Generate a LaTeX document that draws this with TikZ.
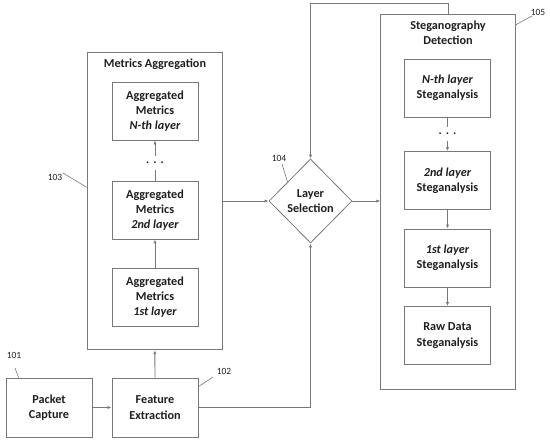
\documentclass[tikz,border=0pt]{standalone}
\usepackage{fontspec}
\setmainfont{Carlito}
\usetikzlibrary{arrows.meta,shapes.geometric,calc}
\definecolor{ln}{RGB}{120,120,120}
\definecolor{tx}{RGB}{30,30,30}
\tikzset{
  box/.style={draw=ln,line width=0.8pt,rectangle,minimum width=86pt,minimum height=58pt,inner sep=0pt,align=center,text=tx,font=\fontsize{12.2}{15.3}\selectfont\bfseries},
  outer/.style={draw=ln,line width=0.8pt,rectangle,inner sep=0pt},
  ttl/.style={align=center,text=tx,font=\fontsize{12.2}{15.3}\selectfont\bfseries,inner sep=0pt},
  lbl/.style={text=tx,font=\fontsize{9.5}{11}\selectfont,inner sep=1pt},
  dots/.style={text=tx,font=\fontsize{12}{12}\selectfont\bfseries,inner sep=0pt,minimum height=13pt},
  arr/.style={draw=ln,line width=0.8pt,-{Latex[length=4pt,width=3.2pt]}},
  ln/.style={draw=ln,line width=0.8pt},
  lead/.style={draw=ln,line width=0.6pt}
}
\begin{document}
\begin{tikzpicture}[x=1pt,y=-1pt]
\useasboundingbox (0,0) rectangle (550,440);
% outer containers
\node[outer,minimum width=135pt,minimum height=297pt] (ma) at (154.5,201.3) {};
\node[ttl] (mat) at (155,64) {Metrics Aggregation};
\node[outer,minimum width=135pt,minimum height=375pt] (sd) at (448.2,201.5) {};
\node[ttl] (sdt) at (448,32.5) {Steganography\\Detection};
% metrics boxes
\node[box] (mN) at (155,111) {Aggregated\\Metrics\\\itshape N-th layer};
\node[dots] (d1) at (155,163) {.\,\,.\,\,.};
\node[box] (m2) at (155,210) {Aggregated\\Metrics\\\itshape 2nd layer};
\node[box] (m1) at (155,297) {Aggregated\\Metrics\\\itshape 1st layer};
% steganalysis boxes
\node[box] (sN) at (447.5,88) {{\itshape N-th layer}\\Steganalysis};
\node[dots] (d2) at (447.5,134) {.\,\,.\,\,.};
\node[box] (s2) at (447.5,180.5) {{\itshape 2nd layer}\\Steganalysis};
\node[box] (s1) at (447.5,258) {{\itshape 1st layer}\\Steganalysis};
\node[box] (sr) at (447.5,335.5) {Raw Data\\Steganalysis};
% bottom boxes
\node[box,minimum height=59pt] (pc) at (49,407.5) {Packet\\Capture};
\node[box,minimum height=59pt] (fe) at (155,407.5) {Feature\\Extraction};
% diamond
\node[diamond,draw=ln,line width=0.8pt,minimum width=83pt,minimum height=84pt,inner sep=0pt,align=center,text=tx,font=\fontsize{12.2}{15.3}\selectfont\bfseries] (ls) at (310.5,201) {Layer\\Selection};
% connectors
\draw[arr] (m1) -- (m2);
\draw[ln] (m2) -- (d1);
\draw[arr] (d1) -- (mN);
\draw[ln] (sN) -- (d2);
\draw[arr] (d2) -- (s2);
\draw[arr] (s2) -- (s1);
\draw[arr] (s1) -- (sr);
\draw[arr] (pc) -- (fe);
\draw[arr] (fe) -- (ma);
\draw[arr] (ma.east |- ls.west) -- (ls.west);
\draw[arr] (ls.east) -- (sd.west |- ls.east);
\draw[arr] (fe.east) -| (ls.south);
\coordinate (top) at (0,3.5);
\draw[arr] (sd.north) -- (sd.north |- top) -| (ls.north);
% labels
\node[lbl] (l101) at (14,355) {101};
\node[lbl] (l102) at (224,371) {102};
\node[lbl] (l103) at (55,177) {103};
\node[lbl] (l104) at (279,158) {104};
\node[lbl] (l105) at (538,12) {105};
\coordinate (e101) at ($(pc.north west)+(13,0)$);
\coordinate (e102) at ($(fe.north east)+(0,9)$);
\coordinate (e103) at ($(ma.west)+(0,-14)$);
\coordinate (e104) at (287.5,182);
\coordinate (e105) at ($(sd.north east)+(0,11)$);
\draw[lead] (15,368) -- (e101);
\draw[lead] (213,377) -- (e102);
\draw[lead] (63,173) -- (e103);
\draw[lead] (282,164) -- (e104);
\draw[lead] (532,16) -- (e105);
\end{tikzpicture}
\end{document}
